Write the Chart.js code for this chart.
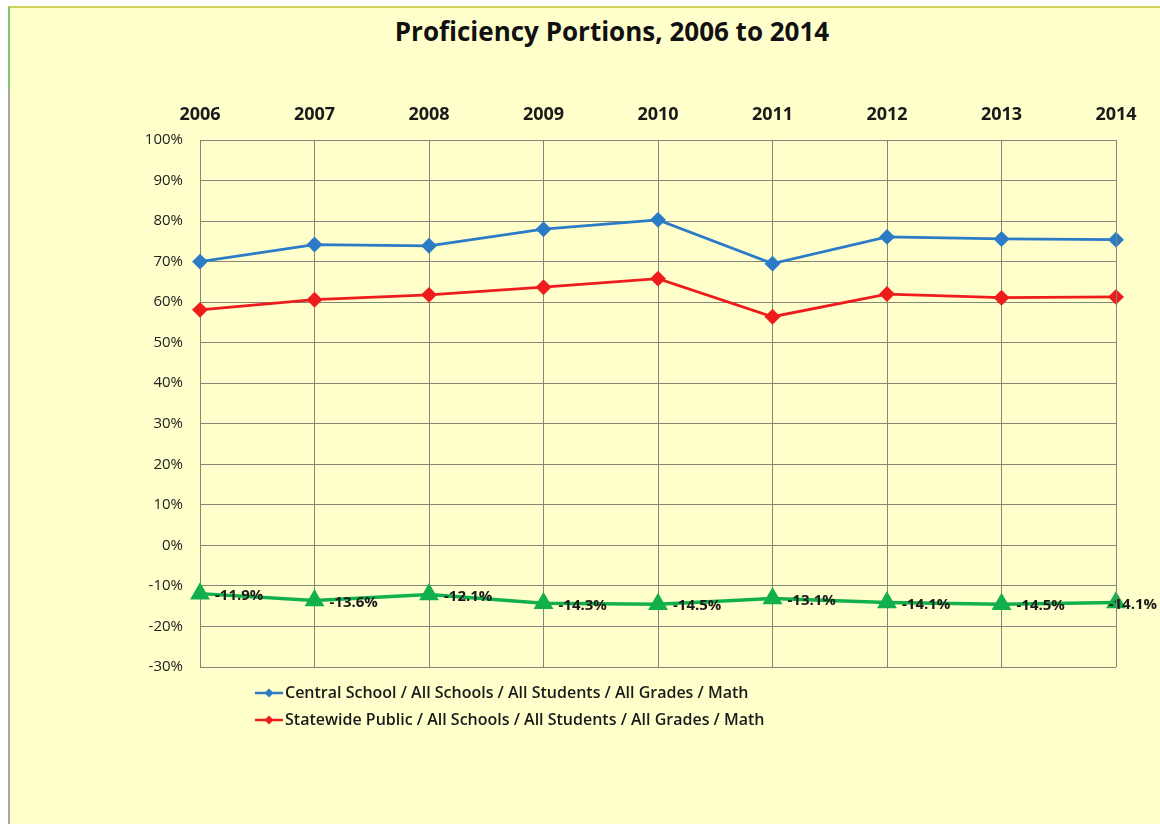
<!DOCTYPE html>
<html>
<head>
<meta charset="utf-8">
<script src="https://cdn.jsdelivr.net/npm/chart.js@4/dist/chart.umd.min.js"></script>
<style>
  html, body { margin: 0; padding: 0; background: #ffffff; }
  #wrap { position: relative; width: 1160px; height: 824px; overflow: hidden; }
  #bg { position: absolute; left: 8px; top: 6px; right: 0; bottom: 0; background: #FFFFCC;
        border-top: 2px solid #d2d25a; border-left: 2px solid #a8a8a8; }
  #greenmark { position: absolute; left: 8px; top: 7px; width: 2px; height: 82px; background: #7cc66e; }
  #title { position: absolute; left: 0; width: 1224px; top: 13px; text-align: center;
           font: bold 26px "Open Sans", sans-serif; color: #111; }
  canvas { position: absolute; left: 0; top: 0; }
  #legend { position: absolute; left: 255px; top: 679px; font: 600 16px "Open Sans", sans-serif; color: #1a1a1a; }
  .item { height: 27px; line-height: 27px; display: flex; align-items: center; white-space: nowrap; }
  .item svg { margin-right: 2px; }
</style>
</head>
<body>
<div id="wrap">
  <div id="bg"></div>
  <div id="greenmark"></div>
  <div id="title">Proficiency Portions, 2006 to 2014</div>
  <canvas id="c" width="1160" height="824"></canvas>
  <div id="legend"></div>
</div>
<script>
const years = ['2006', '2007', '2008', '2009', '2010', '2011', '2012', '2013', '2014'];
const centralSchool = [70.0, 74.2, 73.9, 78.0, 80.3, 69.5, 76.1, 75.6, 75.4];
const statewidePublic = [58.1, 60.6, 61.8, 63.7, 65.8, 56.4, 62.0, 61.1, 61.3];
const gap = [-11.9, -13.6, -12.1, -14.3, -14.5, -13.1, -14.1, -14.5, -14.1];
const seriesNames = [
  'Central School / All Schools / All Students / All Grades / Math',
  'Statewide Public / All Schools / All Students / All Grades / Math'
];
const yMin = -30, yMax = 100, yStep = 10;

const BLUE = '#2c7bc6', RED = '#ee1c1c', GREEN = '#12b04c';
const GRID = '#85857a';

const gapLabels = {
  id: 'gapLabels',
  afterDatasetsDraw(chart) {
    const meta = chart.getDatasetMeta(2);
    const ctx = chart.ctx;
    ctx.save();
    ctx.font = 'bold 15px "Open Sans", sans-serif';
    ctx.fillStyle = '#1a1a1a';
    ctx.textAlign = 'left';
    ctx.textBaseline = 'middle';
    const maxX = chart.width - 3;
    meta.data.forEach((pt, i) => {
      const txt = gap[i].toFixed(1) + '%';
      const w = ctx.measureText(txt).width;
      const x = Math.min(pt.x + 15, maxX - w);
      ctx.fillText(txt, x, pt.y + 2);
    });
    ctx.restore();
  }
};

new Chart(document.getElementById('c'), {
  type: 'line',
  data: {
    labels: years,
    datasets: [
      { label: seriesNames[0], data: centralSchool, borderColor: BLUE, backgroundColor: BLUE,
        borderWidth: 2.8, pointStyle: 'rectRot', pointRadius: 6, pointHoverRadius: 6, tension: 0 },
      { label: seriesNames[1], data: statewidePublic, borderColor: RED, backgroundColor: RED,
        borderWidth: 2.8, pointStyle: 'rectRot', pointRadius: 6, pointHoverRadius: 6, tension: 0 },
      { label: 'Gap', data: gap, borderColor: GREEN, backgroundColor: GREEN,
        borderWidth: 3.5, pointStyle: 'triangle', pointRadius: 8, pointHoverRadius: 8, tension: 0 }
    ]
  },
  options: {
    responsive: false,
    animation: false,
    clip: false,
    layout: { padding: { top: 100, left: 0, right: 44, bottom: 157 } },
    plugins: { legend: { display: false }, title: { display: false }, tooltip: { enabled: false } },
    scales: {
      x: {
        type: 'category', position: 'top', offset: false,
        grid: { color: GRID, lineWidth: 1, drawTicks: false },
        border: { color: GRID, width: 1 },
        ticks: { padding: 14, color: '#1a1a1a', font: { family: '"Open Sans", sans-serif', size: 18, weight: 'bold' }, maxRotation: 0 },
        afterFit(s) { s.height = 40; }
      },
      y: {
        min: yMin, max: yMax,
        grid: { color: GRID, lineWidth: 1, drawTicks: false },
        border: { color: GRID, width: 1 },
        ticks: { stepSize: yStep, padding: 17, color: '#222', font: { family: '"Open Sans", sans-serif', size: 15 },
                 callback: v => v + '%' },
        afterFit(s) { s.width = 200; }
      }
    }
  },
  plugins: [gapLabels, {
    id: 'frameEdges',
    afterDraw(chart) {
      const { ctx, chartArea: a } = chart;
      ctx.save(); ctx.strokeStyle = GRID; ctx.lineWidth = 1;
      ctx.beginPath(); ctx.moveTo(a.left, a.bottom + 0.5); ctx.lineTo(a.right, a.bottom + 0.5);
      ctx.moveTo(a.right + 0.5, a.top); ctx.lineTo(a.right + 0.5, a.bottom); ctx.stroke(); ctx.restore();
    }
  }]
});

const legend = document.getElementById('legend');
[[seriesNames[0], BLUE], [seriesNames[1], RED]].forEach(([name, col]) => {
  const d = document.createElement('div');
  d.className = 'item';
  d.innerHTML = '<svg width="28" height="12"><line x1="0" y1="6" x2="28" y2="6" stroke="' + col +
    '" stroke-width="2.5"/><polygon points="14,1.5 18.5,6 14,10.5 9.5,6" fill="' + col + '"/></svg>';
  const t = document.createElement('span');
  t.textContent = name;
  d.appendChild(t);
  legend.appendChild(d);
});
</script>
</body>
</html>
